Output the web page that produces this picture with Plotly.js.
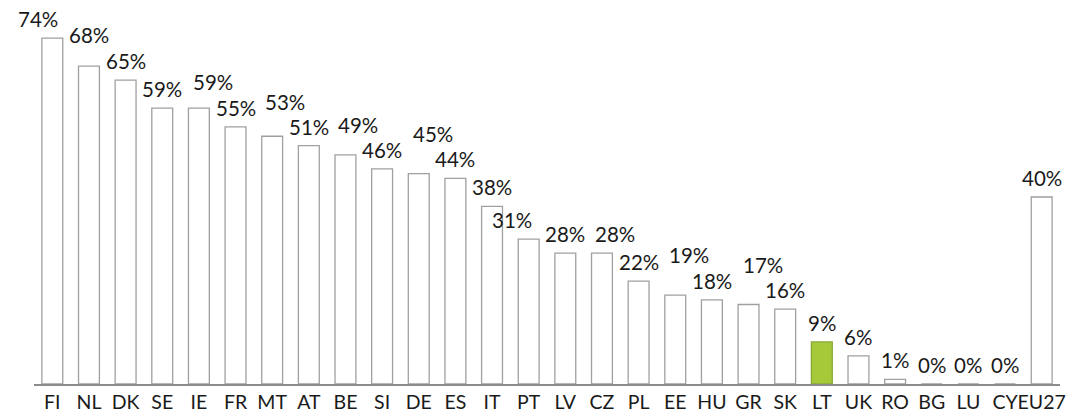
<!DOCTYPE html>
<html>
<head>
<meta charset="utf-8">
<script src="https://cdn.plot.ly/plotly-3.0.1.min.js"></script>
<style>html,body{margin:0;padding:0;background:#fff;}#chart{width:1071px;height:415px;}</style>
</head>
<body>
<div id="chart"></div>
<script>
// Data
var countries = ["FI","NL","DK","SE","IE","FR","MT","AT","BE","SI","DE","ES","IT","PT","LV","CZ","PL","EE","HU","GR","SK","LT","UK","RO","BG","LU","CY","EU27"];
var shares = [74,68,65,59,59,55,53,51,49,46,45,44,38,31,28,28,22,19,18,17,16,9,6,1,0,0,0,40];
var highlight = "LT";

// Label placement tweaks (px), as in the original figure
var labelDx = [-14,0,0,0,14,0,13,0,13,0,14,0,0,-17,0,13,0,14,0,14,0,0,0,0,0,0,0,0];
var labelLift = [0,12,0,0,7,0,15,0,11,0,21,0,0,0,0,0,0,21,0,21,0,0,0,0,0,0,0,0];

var fills = countries.map(function(c){ return c === highlight ? "#a6c93a" : "#ffffff"; });
var lines = countries.map(function(c){ return c === highlight ? "#8aa83a" : "#a0a0a0"; });

var trace = {
  type: "bar",
  x: countries,
  y: shares,
  width: 0.57,
  marker: { color: fills, line: { color: lines, width: 1.3 } },
  hoverinfo: "none"
};

var FONT = "Lato, 'Open Sans', sans-serif";

var annotations = countries.map(function(c, i){
  return {
    x: c, y: shares[i], xref: "x", yref: "y",
    text: shares[i] + "%",
    showarrow: false,
    yanchor: "bottom", xanchor: "center",
    xshift: labelDx[i], yshift: 5 + labelLift[i],
    font: { family: FONT, size: 20.5, color: "#1a1a1a" }
  };
});

var layout = {
  width: 1071, height: 415,
  margin: { l: 34.2, r: 11.2, t: 10, b: 31 },
  paper_bgcolor: "#ffffff", plot_bgcolor: "#ffffff",
  showlegend: false,
  bargap: 0.43,
  xaxis: {
    type: "category",
    range: [-0.5, 27.5],
    showline: true, linecolor: "#8c8c8c", linewidth: 2,
    showgrid: false, zeroline: false, ticks: "",
    tickangle: 0, automargin: false,
    tickfont: { family: FONT, size: 19.5, color: "#1a1a1a" },
    fixedrange: true
  },
  yaxis: {
    range: [0, 80],
    visible: false, showgrid: false, zeroline: false,
    fixedrange: true
  },
  annotations: annotations
};

Plotly.newPlot("chart", [trace], layout, { staticPlot: true, displayModeBar: false });
</script>
</body>
</html>
